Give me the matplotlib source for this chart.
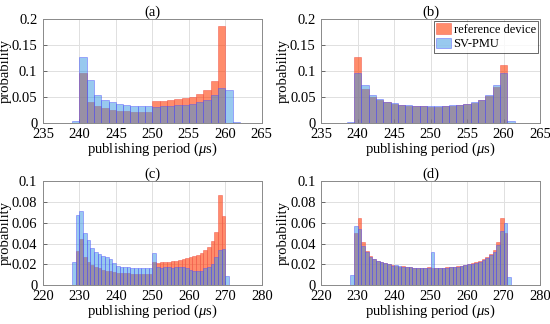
import numpy as np
import matplotlib
matplotlib.use("Agg")
import matplotlib.pyplot as plt
from matplotlib.ticker import FuncFormatter

plt.rcParams['font.family'] = ['Liberation Serif', 'DejaVu Serif']
plt.rcParams['mathtext.fontset'] = 'custom'
plt.rcParams['mathtext.rm'] = 'Liberation Serif'
plt.rcParams['mathtext.it'] = 'Liberation Serif:italic'
plt.rcParams['font.size'] = 10.5

# ---- data: probability per 1 us bin, first bin left edge given ----
# (a)
a_start = 235
a_ref = [0, 0, 0, 0, 0,
         0.097, 0.041, 0.033, 0.029, 0.026, 0.024, 0.023, 0.022, 0.022, 0.022,
         0.042, 0.043, 0.044, 0.046, 0.048, 0.051, 0.056, 0.064, 0.081, 0.187,
         0, 0, 0, 0, 0]
a_pmu = [0, 0, 0, 0.001, 0.005,
         0.127, 0.083, 0.054, 0.045, 0.040, 0.036, 0.034, 0.033, 0.033, 0.032,
         0.031, 0.032, 0.033, 0.034, 0.035, 0.037, 0.040, 0.045, 0.054, 0.068,
         0.064, 0.002, 0, 0, 0]
# (b)
b_start = 234.5
b_ref = [0, 0, 0, 0, 0.001,
         0.127, 0.066, 0.051, 0.044, 0.040, 0.037, 0.035, 0.033, 0.033, 0.032,
         0.031, 0.031, 0.032, 0.033, 0.034, 0.036, 0.039, 0.044, 0.053, 0.070,
         0.111, 0, 0, 0, 0]
b_pmu = [0, 0, 0, 0.001, 0.003,
         0.097, 0.074, 0.055, 0.046, 0.041, 0.038, 0.035, 0.034, 0.033, 0.033,
         0.032, 0.032, 0.033, 0.034, 0.035, 0.037, 0.040, 0.045, 0.055, 0.074,
         0.097, 0.004, 0, 0, 0]
# (c)
c_start = 224
c_ref = [0, 0, 0, 0, 0,
         0.033, 0.044, 0.027, 0.022, 0.019, 0.017, 0.016, 0.015, 0.014, 0.014,
         0.013, 0.012, 0.012, 0.012, 0.012, 0.011, 0.011, 0.011, 0.011, 0.011,
         0.011, 0.022, 0.021, 0.022, 0.022, 0.022, 0.023, 0.023, 0.024, 0.025,
         0.026, 0.027, 0.028, 0.029, 0.031, 0.034, 0.037, 0.042, 0.051, 0.087,
         0.066, 0, 0, 0, 0, 0, 0, 0]
c_pmu = [0, 0, 0, 0, 0.022,
         0.067, 0.071, 0.050, 0.043, 0.036, 0.032, 0.030, 0.028, 0.027, 0.025,
         0.021, 0.018, 0.017, 0.017, 0.017, 0.016, 0.016, 0.016, 0.016, 0.016,
         0.016, 0.031, 0.017, 0.016, 0.017, 0.017, 0.016, 0.017, 0.017, 0.017,
         0.016, 0.015, 0.014, 0.014, 0.014, 0.016, 0.017, 0.020, 0.027, 0.034,
         0.035, 0.009, 0, 0, 0, 0, 0, 0]
# (d)
d_start = 224
d_ref = [0, 0, 0, 0, 0,
         0.050, 0.065, 0.041, 0.033, 0.028, 0.025, 0.023, 0.022, 0.021, 0.020,
         0.019, 0.018, 0.017, 0.018, 0.017, 0.017, 0.016, 0.016, 0.016, 0.016,
         0.017, 0.016, 0.016, 0.016, 0.016, 0.017, 0.017, 0.017, 0.018, 0.018,
         0.019, 0.020, 0.021, 0.022, 0.023, 0.025, 0.027, 0.030, 0.034, 0.041,
         0.065, 0.050, 0, 0, 0, 0, 0, 0]
d_pmu = [0, 0, 0, 0, 0.010,
         0.057, 0.054, 0.038, 0.032, 0.027, 0.025, 0.023, 0.022, 0.021, 0.020,
         0.018, 0.019, 0.018, 0.017, 0.017, 0.017, 0.016, 0.016, 0.016, 0.016,
         0.016, 0.032, 0.016, 0.016, 0.016, 0.016, 0.017, 0.017, 0.017, 0.018,
         0.019, 0.020, 0.020, 0.021, 0.022, 0.024, 0.026, 0.029, 0.032, 0.039,
         0.052, 0.060, 0.008, 0, 0, 0, 0, 0]

panels = [
    ("(a)", a_start, a_ref, a_pmu, (235, 265), 0.2, 0.05),
    ("(b)", b_start, b_ref, b_pmu, (235, 265), 0.2, 0.05),
    ("(c)", c_start, c_ref, c_pmu, (220, 280), 0.1, 0.02),
    ("(d)", d_start, d_ref, d_pmu, (220, 280), 0.1, 0.02),
]

ref_face = (1.0, 0.25, 0.03, 0.6)
ref_edge = (0.95, 0.35, 0.3, 0.6)
pmu_face = (0.2, 0.58, 0.88, 0.5)
pmu_edge = (0.3, 0.3, 1.0, 0.5)

fig = plt.figure(figsize=(5.5, 3.24), dpi=100)
boxes = [
    [0.078, 0.620, 0.398, 0.321],
    [0.584, 0.620, 0.398, 0.321],
    [0.078, 0.120, 0.398, 0.321],
    [0.584, 0.120, 0.398, 0.321],
]

for box, (title, start, ref, pmu, xlim, ymax, ystep) in zip(boxes, panels):
    ax = fig.add_axes(box)
    edges = start + np.arange(len(ref))
    ax.bar(edges, ref, width=1, align='edge', color=ref_face,
           edgecolor=ref_edge, linewidth=0.6, label='reference device', zorder=2)
    ax.bar(edges, pmu, width=1, align='edge', color=pmu_face,
           edgecolor=pmu_edge, linewidth=0.6, label='SV-PMU', zorder=3)
    ax.set_xlim(*xlim)
    ax.set_ylim(0, ymax)
    ax.set_xticks(np.arange(xlim[0], xlim[1] + 1, 5 if xlim[0] == 235 else 10))
    ax.set_yticks(np.arange(0, ymax + 1e-9, ystep))
    ax.yaxis.set_major_formatter(FuncFormatter(lambda v, p: "%g" % round(v, 3)))
    ax.grid(True, color='#e0e0e0', linewidth=0.7, zorder=0)
    ax.set_axisbelow(True)
    for s in ax.spines.values():
        s.set_color('#8a8a8a')
        s.set_linewidth(0.7)
    ax.tick_params(direction='in', length=3, width=0.6, color='#555555',
                   labelsize=10.5)
    ax.tick_params(axis='x', pad=3.5)
    ax.tick_params(axis='y', pad=4)
    ax.set_title(title, fontsize=10.5, pad=2)
    ax.set_xlabel(r"publishing period ($\mu$s)", fontsize=10.5, labelpad=0)
    ax.set_ylabel("probability", fontsize=10.5, labelpad=0)
    if title == "(b)":
        leg = ax.legend(loc='upper right', fontsize=9, frameon=True,
                        fancybox=False, borderpad=0.2, handlelength=1.2,
                        handleheight=0.9, handletextpad=0.2,
                        borderaxespad=0.15, labelspacing=0.15)
        leg.get_frame().set_edgecolor('#222222')
        leg.get_frame().set_linewidth(0.6)

fig.savefig("out.png", dpi=100)
